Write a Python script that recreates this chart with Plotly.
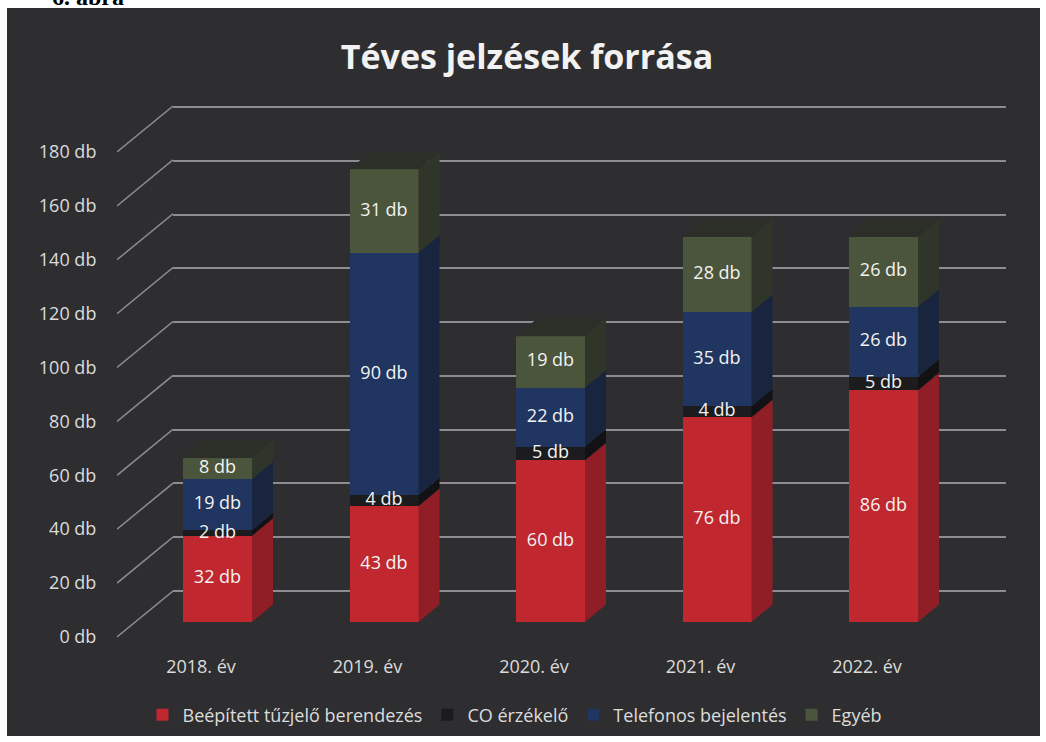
import base64
import plotly.graph_objects as go

# ---------------- data ----------------
years = ["2018. év", "2019. év", "2020. év", "2021. év", "2022. év"]
beepitett = [32, 43, 60, 76, 86]
co_erzekelo = [2, 4, 5, 4, 5]
telefonos = [19, 90, 22, 35, 26]
egyeb = [8, 31, 19, 28, 26]
series_names = ["Beépített tűzjelő berendezés", "CO érzékelő", "Telefonos bejelentés", "Egyéb"]
y_ticks = [0, 20, 40, 60, 80, 100, 120, 140, 160, 180]
y_tick_labels = [f"{v} db" for v in y_ticks]
title_text = "Téves jelzések forrása"

# ---------------- styling / geometry ----------------
W, H = 1046, 742
YS = 742 / 748.0         # observed vertical compression of the rendered page
K = 485 / 180.0          # px per db (reference pixels)
STEP = 166.5             # px per category
front_cols = ["#c0272e", "#1c1c1f", "#20355f", "#4b553b"]
side_cols = ["#8f1e26", "#121214", "#19253f", "#30352a"]
top_cols = ["#7a1a20", "#101012", "#172033", "#2c2f28"]
grid_col = "#8c8c92"
txt_col = "#dcdcdc"
FONT = "Open Sans"
FS = 18


def py(p):
    return 1 - (p / YS) / H


def xd(p0, p1):
    return [p0 / W, p1 / W]


def yd(pbottom, ptop):
    return [py(pbottom), py(ptop)]


series = [beepitett, co_erzekelo, telefonos, egyeb]
xs = list(range(len(years)))

fig = go.Figure()

# back wall (grid only)
fig.add_trace(go.Scatter(x=[0, 1], y=[None, None], xaxis="x", yaxis="y",
                         showlegend=False, hoverinfo="skip"))

# floor diagonals from front axis to back wall
depth_db = 46 / K
dx_list, dy_list = [], []
for v in y_ticks:
    dx_list += [0, 1, None]
    dy_list += [v, v + depth_db, None]
fig.add_trace(go.Scatter(x=dx_list, y=dy_list, xaxis="x2", yaxis="y2", mode="lines",
                         line=dict(color=grid_col, width=1.5), showlegend=False,
                         hoverinfo="skip"))

# dummy for category label axis
fig.add_trace(go.Scatter(x=xs, y=[0] * len(xs), xaxis="x4", yaxis="y2", mode="markers",
                         marker=dict(opacity=0), showlegend=False, hoverinfo="skip"))

# bars
BW = 69 / STEP
for name, vals, col in zip(series_names, series, front_cols):
    fig.add_trace(go.Bar(x=xs, y=vals, name=name, xaxis="x3", yaxis="y3",
                         marker=dict(color=col, line=dict(width=0)), width=BW,
                         hoverinfo="skip"))

# labels + 3D faces
lab_x, lab_y, lab_t = [], [], []
shapes = []
dxu = 21 / STEP
dyv = 17.5 / K
for i in xs:
    base = 0
    xr = i + BW / 2
    xl = i - BW / 2
    for s, vals in enumerate(series):
        v = vals[i]
        top = base + v
        lab_x.append(i)
        lab_y.append(base + v / 2)
        lab_t.append(f"{v} db")
        shapes.append(dict(type="path", xref="x3", yref="y3", layer="above",
                           path=f"M {xr},{base} L {xr + dxu},{base + dyv} L {xr + dxu},{top + dyv} L {xr},{top} Z",
                           fillcolor=side_cols[s], line=dict(width=0)))
        base = top
    shapes.append(dict(type="path", xref="x3", yref="y3", layer="above",
                       path=f"M {xl},{base} L {xl + dxu},{base + dyv} L {xr + dxu},{base + dyv} L {xr},{base} Z",
                       fillcolor=top_cols[3], line=dict(width=0)))

fig.add_trace(go.Scatter(x=lab_x, y=lab_y, text=lab_t, mode="text", xaxis="x3", yaxis="y3",
                         textfont=dict(color="#f2f2f2", size=FS, family=FONT),
                         textposition="middle center", cliponaxis=False,
                         showlegend=False, hoverinfo="skip"))

# dark background rectangle + gradient
x0p, x1p, y0p, y1p = 7, 1040, 8, 736
svg = ('<svg xmlns="http://www.w3.org/2000/svg" width="1000" height="700" '
       'preserveAspectRatio="none">'
       '<defs><radialGradient id="g" cx="50%" cy="58%" r="62%">'
       '<stop offset="0%" stop-color="#464046"/><stop offset="100%" stop-color="#2d2d2f"/>'
       '</radialGradient></defs><rect width="100%" height="100%" fill="url(#g)"/></svg>')
src = "data:image/svg+xml;base64," + base64.b64encode(svg.encode()).decode()

shapes.insert(0, dict(type="rect", xref="paper", yref="paper", layer="below",
                      x0=x0p / W, x1=x1p / W, y0=max(py(y1p), 0), y1=py(y0p),
                      fillcolor="#2e2e30", line=dict(width=0)))

axis_common = dict(showline=False, zeroline=False, showgrid=False, fixedrange=True)

fig.update_layout(
    width=W, height=H,
    margin=dict(l=0, r=0, t=0, b=0),
    paper_bgcolor="white",
    plot_bgcolor="rgba(0,0,0,0)",
    barmode="stack",
    hovermode=False,
    shapes=shapes,
    images=[dict(source=src, xref="paper", yref="paper", x=x0p / W, y=py(y0p),
                 sizex=(x1p - x0p) / W, sizey=py(y0p) - max(py(y1p), 0), sizing="stretch",
                 xanchor="left", yanchor="top", layer="below")],
    title=dict(text=title_text, x=527 / W, xanchor="center", y=py(57), yanchor="middle",
               font=dict(family=FONT, size=34, color="#f2f2f2", weight="bold")),
    legend=dict(orientation="h", x=515 / W, xanchor="center", y=py(715), yanchor="middle",
                font=dict(family=FONT, size=FS, color=txt_col), bgcolor="rgba(0,0,0,0)",
                traceorder="normal", itemwidth=30),
    # back wall
    xaxis=dict(**axis_common, domain=xd(173, 1006), range=[0, 1], showticklabels=False, anchor="y"),
    yaxis=dict(showline=False, fixedrange=True, domain=yd(591 + 2 * K, 107 - 2 * K), range=[-2, 182],
               tickvals=y_ticks, showticklabels=False, showgrid=True, gridcolor=grid_col,
               gridwidth=1.5, zeroline=True, zerolinecolor=grid_col, zerolinewidth=1.5,
               anchor="x"),
    # front plane: y labels + diagonals
    xaxis2=dict(**axis_common, domain=xd(117, 173), range=[0, 1], showticklabels=False, anchor="y2"),
    yaxis2=dict(**axis_common, domain=yd(637 + 2 * K, 637 - 200 * K), range=[-2, 200],
                tickvals=y_ticks, ticktext=y_tick_labels, ticks="outside", ticklen=16,
                tickcolor="rgba(0,0,0,0)", tickfont=dict(family=FONT, size=FS, color=txt_col),
                anchor="x2"),
    # category labels
    xaxis4=dict(**axis_common, domain=xd(201 - STEP / 2, 201 + 4.5 * STEP), range=[-0.5, 4.5],
                tickvals=xs, ticktext=years, ticks="outside", ticklen=8,
                tickcolor="rgba(0,0,0,0)", tickfont=dict(family=FONT, size=FS, color=txt_col),
                anchor="y2"),
    # bars plane
    xaxis3=dict(**axis_common, domain=xd(217.5 - STEP / 2, 217.5 + 4.5 * STEP), range=[-0.5, 4.5],
                showticklabels=False, anchor="y3"),
    yaxis3=dict(**axis_common, domain=yd(622, 622 - 180 * K), range=[0, 180],
                showticklabels=False, anchor="x3"),
    annotations=[dict(text="<b>6. ábra</b>", xref="paper", yref="paper", x=50 / W, y=py(12),
                      xanchor="left", yanchor="bottom", showarrow=False,
                      font=dict(family="Liberation Serif", size=24, color="black"))],
)

fig.write_html("out.html", config={"displayModeBar": False},
               post_script="document.body.style.margin='0';document.body.style.overflow='hidden';")
